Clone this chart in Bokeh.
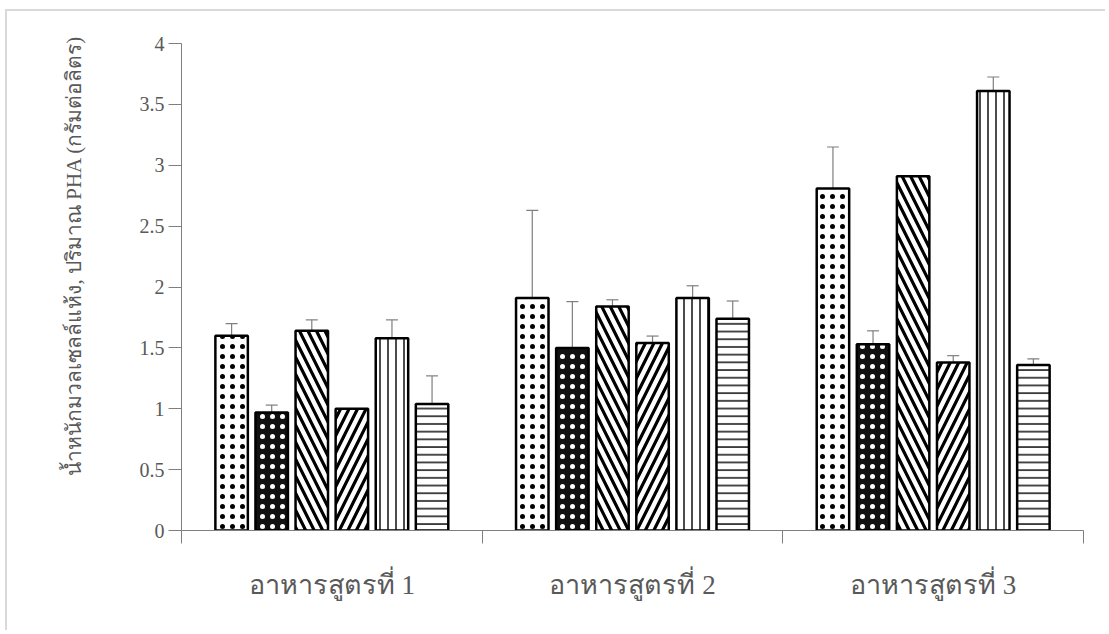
from bokeh.plotting import figure
from bokeh.models import ColumnDataSource, Range1d, FixedTicker, Whisker, TeeHead, Title
from bokeh.embed import file_html
from bokeh.resources import INLINE

# ---- data ----
categories = ["อาหารสูตรที่ 1", "อาหารสูตรที่ 2", "อาหารสูตรที่ 3"]
s1 = [1.60, 1.91, 2.81]
s2 = [0.97, 1.50, 1.53]
s3 = [1.64, 1.84, 2.91]
s4 = [1.00, 1.54, 1.38]
s5 = [1.58, 1.91, 3.61]
s6 = [1.04, 1.74, 1.36]
e1 = [0.10, 0.72, 0.34]
e2 = [0.06, 0.38, 0.11]
e3 = [0.09, 0.055, 0.0]
e4 = [0.0, 0.057, 0.056]
e5 = [0.15, 0.10, 0.115]
e6 = [0.23, 0.145, 0.05]
y_ticks = [0, 0.5, 1, 1.5, 2, 2.5, 3, 3.5, 4]
y_tick_labels = ["0", "0.5", "1", "1.5", "2", "2.5", "3", "3.5", "4"]
y_title = "น้ำหนักมวลเซลล์แห้ง, ปริมาณ PHA (กรัมต่อลิตร)"

values = [s1, s2, s3, s4, s5, s6]
errors = [e1, e2, e3, e4, e5, e6]

# ---- styles ----
styles = [
    dict(fill_color="white", hatch_pattern="dot", hatch_color="black", hatch_scale=10, hatch_weight=0.2),
    dict(fill_color="#111111", hatch_pattern="dot", hatch_color="white", hatch_scale=10, hatch_weight=0.2),
    dict(fill_color="white", hatch_pattern="left_diagonal_line", hatch_color="black", hatch_scale=17, hatch_weight=3.2),
    dict(fill_color="white", hatch_pattern="right_diagonal_line", hatch_color="black", hatch_scale=17, hatch_weight=3.2),
    dict(fill_color="white", hatch_pattern="vertical_line", hatch_color="black", hatch_scale=8, hatch_weight=1.4),
    dict(fill_color="white", hatch_pattern="horizontal_line", hatch_color="black", hatch_scale=7.7, hatch_weight=1.4),
]

GRAY = "#7f7f7f"
TEXT = "#595959"

p = figure(width=1100, height=621, output_backend="svg", toolbar_location=None,
           x_range=Range1d(0, 3), y_range=Range1d(0, 4),
           min_border_left=174, min_border_right=24, min_border_top=32, min_border_bottom=102)
p.margin = (9, 0, 0, 5)
p.xgrid.visible = False
p.ygrid.visible = False
p.outline_line_color = None
p.styles = {"border-left": "2px solid #d9d9d9", "border-top": "2px solid #d9d9d9"}

slot = 0.8 / 6
bar_w = 0.108
for i, (vals, errs) in enumerate(zip(values, errors)):
    xs = [g + 0.5 + (i - 2.5) * slot for g in range(len(categories))]
    src = ColumnDataSource(dict(x=xs, top=vals,
                                upper=[v + e for v, e in zip(vals, errs)],
                                lower=[v - e for v, e in zip(vals, errs)]))
    p.vbar(x="x", top="top", bottom=0, width=bar_w, source=src,
           line_color="black", line_width=2.5, **styles[i])
    w = Whisker(base="x", upper="upper", lower="lower", source=src,
                line_color=GRAY, line_width=1.2,
                upper_head=TeeHead(size=12, line_color=GRAY, line_width=1.2),
                lower_head=TeeHead(size=12, line_color=GRAY, line_width=1.2))
    p.add_layout(w)

# y axis
ya = p.yaxis[0]
ya.ticker = FixedTicker(ticks=y_ticks)
ya.major_label_overrides = dict(zip(y_ticks, y_tick_labels))
ya.major_tick_out = 13
ya.major_tick_in = 0
ya.minor_tick_out = 0
ya.minor_tick_in = 0
ya.axis_line_color = GRAY
ya.major_tick_line_color = GRAY
ya.major_label_text_font = "Liberation Serif"
ya.major_label_text_font_size = "20px"
ya.major_label_text_color = TEXT
ya.major_label_standoff = 4

# y title, starting a little above the frame bottom as in the original
p.add_layout(Title(text=y_title, align="left", offset=55, standoff=102,
                   text_font="Liberation Serif", text_font_size="21px",
                   text_font_style="normal", text_color=TEXT), "left")

# x axis
xa = p.xaxis[0]
xa.ticker = FixedTicker(ticks=[0.5, 1.5, 2.5], minor_ticks=[0, 1, 2, 3])
xa.major_label_overrides = {0.5: categories[0], 1.5: categories[1], 2.5: categories[2]}
xa.major_tick_out = 0
xa.major_tick_in = 0
xa.minor_tick_out = 13
xa.minor_tick_in = 0
xa.axis_line_color = GRAY
xa.minor_tick_line_color = GRAY
xa.major_label_text_font = "Liberation Serif"
xa.major_label_text_font_size = "27px"
xa.major_label_text_color = TEXT
xa.major_label_standoff = 26

open("out.html", "w").write(file_html(p, INLINE))
